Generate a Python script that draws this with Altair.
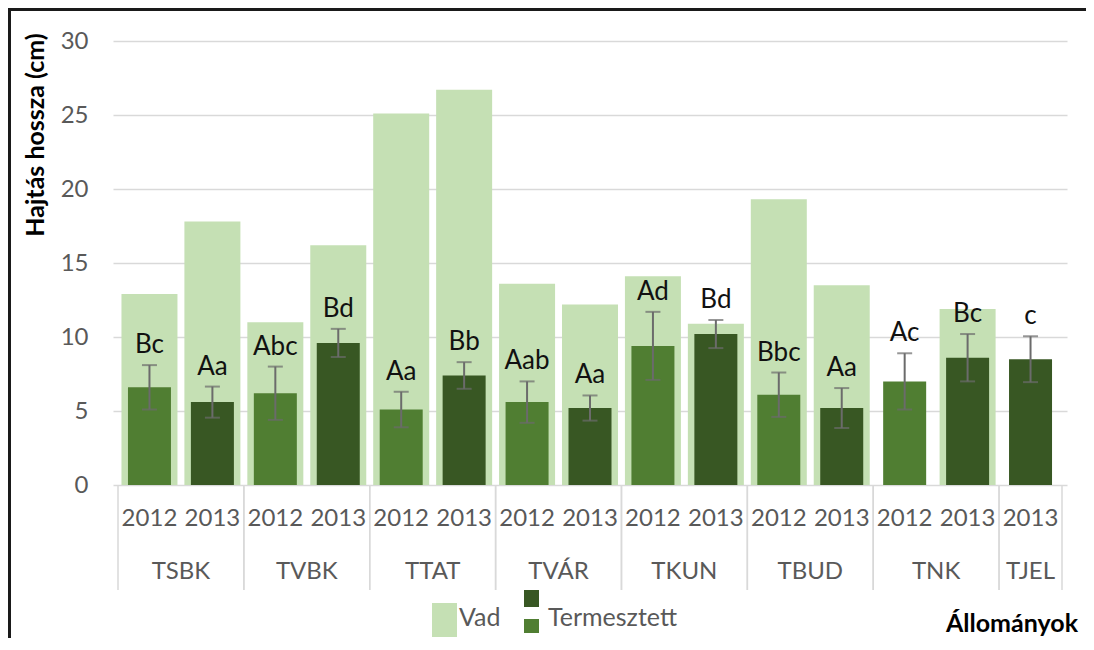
import altair as alt
import pandas as pd
import numpy as np

# ---- data ----
groups = ["TSBK", "TSBK", "TVBK", "TVBK", "TTAT", "TTAT", "TVÁR", "TVÁR",
          "TKUN", "TKUN", "TBUD", "TBUD", "TNK", "TNK", "TJEL"]
years = ["2012", "2013", "2012", "2013", "2012", "2013", "2012", "2013",
         "2012", "2013", "2012", "2013", "2012", "2013", "2013"]
vad = [12.9, 17.8, 11.0, 16.2, 25.1, 26.7, 13.6, 12.2,
       14.1, 10.9, 19.3, 13.5, None, 11.9, None]
termesztett = [6.6, 5.6, 6.2, 9.6, 5.1, 7.4, 5.6, 5.2,
               9.4, 10.2, 6.1, 5.2, 7.0, 8.6, 8.5]
hiba = [1.5, 1.05, 1.8, 0.95, 1.2, 0.9, 1.4, 0.85,
        2.3, 0.95, 1.5, 1.35, 1.9, 1.6, 1.55]
betuk = ["Bc", "Aa", "Abc", "Bd", "Aa", "Bb", "Aab", "Aa",
         "Ad", "Bd", "Bbc", "Aa", "Ac", "Bc", "c"]
y_ticks = [0, 5, 10, 15, 20, 25, 30]

df = pd.DataFrame({
    "group": groups, "year": years, "vad": vad, "term": termesztett,
    "err": hiba, "label": betuk,
})
df["pos"] = np.arange(len(df)) + 0.5
df["lo"] = df["term"] - df["err"]
df["hi"] = df["term"] + df["err"]

FONT = "Lato"
GRAY = "#595959"
W, H = 954, 444

xs = alt.Scale(domain=[0, len(df)], nice=False, zero=False)
ys = alt.Scale(domain=[0, 30], nice=False, zero=True)
X = alt.X("pos:Q", scale=xs, axis=None)
YAX = alt.Axis(values=y_ticks, grid=True, gridColor="#D9D9D9",
               gridWidth=1.5, ticks=False, domain=False,
               labelFont=FONT, labelFontSize=24, labelColor=GRAY,
               labelPadding=25, title=None)


def Y(field):
    return alt.Y(field, scale=ys, axis=YAX, title=None)


base = alt.Chart(df)

vad_bars = base.mark_bar(width=56, color="#C5E0B4").encode(x=X, y=Y("vad:Q"))

term_bars = base.mark_bar(width=43).encode(
    x=X,
    y=Y("term:Q"),
    color=alt.Color("year:N", legend=None,
                    scale=alt.Scale(domain=["2012", "2013"],
                                    range=["#507E32", "#385723"])),
)

err_rule = base.mark_rule(color="#6B6B6B", strokeWidth=2).encode(
    x=X, y=Y("lo:Q"), y2="hi:Q")
cap_hi = base.mark_tick(orient="horizontal", size=15, thickness=2,
                        color="#6B6B6B").encode(x=X, y=Y("hi:Q"))
cap_lo = base.mark_tick(orient="horizontal", size=15, thickness=2,
                        color="#6B6B6B").encode(x=X, y=Y("lo:Q"))

letters = base.mark_text(font=FONT, fontSize=26, dy=-12, baseline="alphabetic",
                         color="#111111").encode(
    x=X, y=Y("hi:Q"), text="label:N")

year_labels = base.mark_text(font=FONT, fontSize=24, color=GRAY,
                             baseline="middle").encode(
    x=X, y=alt.value(478), text="year:N")

group_labels = base.transform_aggregate(
    center="mean(pos)", groupby=["group"]
).mark_text(font=FONT, fontSize=24, color=GRAY, baseline="middle").encode(
    x=alt.X("center:Q", scale=xs, axis=None), y=alt.value(531), text="group:N")

separators = base.transform_aggregate(
    left="min(pos)", right="max(pos)", groupby=["group"]
).transform_calculate(
    edge_l="datum.left - 0.5", edge_r="datum.right + 0.5"
).transform_fold(["edge_l", "edge_r"], as_=["k", "edge"]).mark_rule(
    color="#D9D9D9", strokeWidth=1.5
).encode(x=alt.X("edge:Q", scale=xs, axis=None), y=alt.value(444), y2=alt.value(549))

one = alt.Chart(pd.DataFrame({"k": [0]}))

y_title = one.mark_text(font=FONT, fontSize=25, fontWeight="bold", angle=270,
                        color="black", baseline="middle").encode(
    x=alt.value(-77), y=alt.value(94), text=alt.value("Hajtás hossza (cm)"))

x_title = one.mark_text(font=FONT, fontSize=25, fontWeight="bold", align="right",
                        color="black", baseline="middle").encode(
    x=alt.value(965), y=alt.value(583), text=alt.value("Állományok"))

leg_vad_sw = one.mark_rect(color="#C5E0B4").encode(
    x=alt.value(319), x2=alt.value(344), y=alt.value(562), y2=alt.value(596))
leg_vad_tx = one.mark_text(font=FONT, fontSize=25, color=GRAY, align="left",
                           baseline="middle").encode(
    x=alt.value(346), y=alt.value(577), text=alt.value("Vad"))
leg_t_dark = one.mark_rect(color="#385723").encode(
    x=alt.value(411), x2=alt.value(426), y=alt.value(549), y2=alt.value(566))
leg_t_mid = one.mark_rect(color="#507E32").encode(
    x=alt.value(411), x2=alt.value(426), y=alt.value(578), y2=alt.value(592))
leg_t_tx = one.mark_text(font=FONT, fontSize=25, color=GRAY, align="left",
                         baseline="middle").encode(
    x=alt.value(435), y=alt.value(577), text=alt.value("Termesztett"))

border_top = one.mark_rule(color="#1A1A1A", strokeWidth=3).encode(
    x=alt.value(-105), x2=alt.value(973), y=alt.value(-31.5))
border_left = one.mark_rule(color="#1A1A1A", strokeWidth=3).encode(
    x=alt.value(-103.5), y=alt.value(-33), y2=alt.value(597))

chart = alt.layer(
    vad_bars, term_bars, err_rule, cap_hi, cap_lo, letters,
    year_labels, group_labels, separators,
    y_title, x_title, leg_vad_sw, leg_vad_tx, leg_t_dark, leg_t_mid, leg_t_tx,
    border_top, border_left,
).properties(
    width=W, height=H,
    padding={"left": 105, "top": 33, "right": 19, "bottom": 153},
    autosize=alt.AutoSizeParams(type="none"),
    background="white",
).configure_view(stroke=None)

chart.save("out.html", embed_options={"renderer": "svg", "actions": False})
